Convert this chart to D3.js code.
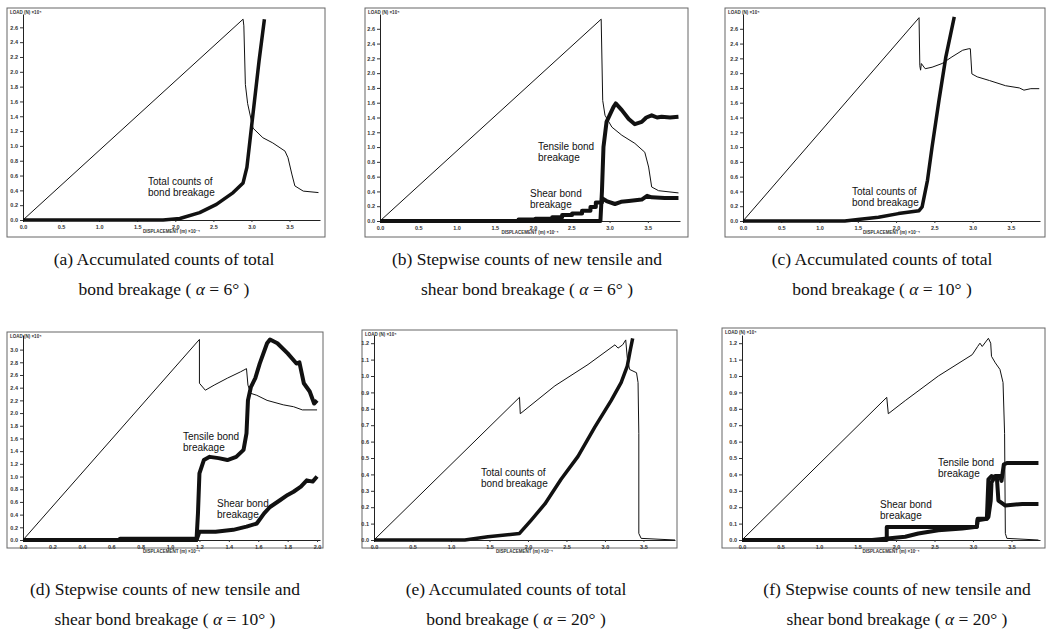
<!DOCTYPE html>
<html lang="en">
<head>
<meta charset="utf-8">
<title>Bond breakage counts vs load-displacement</title>
<script src="https://cdn.jsdelivr.net/npm/d3@7"></script>
<style>
  body { margin: 0; background: #fff; }
  .tick text { font: bold 5.5px "Liberation Sans", Arial, sans-serif; fill: #333; }
  .note { font: 10px "Liberation Sans", Arial, sans-serif; fill: #111; }
  .caption { font: 17.5px "Liberation Serif", "DejaVu Serif", serif; fill: #111; }
  .axtitle { font: bold 4.5px "Liberation Sans", Arial, sans-serif; fill: #333; }
</style>
</head>
<body>
<div id="chart"></div>
<script>
// tick labels
var ticksX05 = [0.0, 0.5, 1.0, 1.5, 2.0, 2.5, 3.0, 3.5];
var ticksX02 = [0.0, 0.2, 0.4, 0.6, 0.8, 1.0, 1.2, 1.4, 1.6, 1.8, 2.0];
var ticksY26 = [0.0, 0.2, 0.4, 0.6, 0.8, 1.0, 1.2, 1.4, 1.6, 1.8, 2.0, 2.2, 2.4, 2.6];
var ticksY30 = [0.0, 0.2, 0.4, 0.6, 0.8, 1.0, 1.2, 1.4, 1.6, 1.8, 2.0, 2.2, 2.4, 2.6, 2.8, 3.0];
var ticksY12 = [0.0, 0.1, 0.2, 0.3, 0.4, 0.5, 0.6, 0.7, 0.8, 0.9, 1.0, 1.1, 1.2];

// (a) alpha = 6
var loadA = [[0,0],[2.89,2.71],[2.90,2.62],[2.92,1.83],[2.95,1.57],[3.02,1.24],[3.15,1.11],[3.28,1.04],[3.44,0.93],[3.48,0.84],[3.53,0.62],[3.57,0.46],[3.68,0.39],[3.88,0.37]];
var totalA = [[0,0],[1.84,0],[2.06,0.02],[2.32,0.10],[2.54,0.21],[2.76,0.37],[2.89,0.50],[2.94,0.71],[2.98,1.07],[3.04,1.61],[3.10,2.15],[3.17,2.71]];

// (b) alpha = 6
var loadB = [[0,0],[2.89,2.73],[2.91,1.63],[2.94,1.43],[3.03,1.27],[3.16,1.16],[3.33,1.05],[3.46,0.93],[3.51,0.73],[3.55,0.46],[3.64,0.41],[3.90,0.38]];
var tensileB = [[0,0],[2.88,0],[2.90,0.40],[2.92,1.00],[2.96,1.34],[3.05,1.54],[3.08,1.59],[3.16,1.50],[3.25,1.38],[3.33,1.31],[3.42,1.34],[3.48,1.40],[3.55,1.43],[3.62,1.40],[3.68,1.41],[3.79,1.40],[3.90,1.41]];
var shearB = [[0,0],[1.81,0],[1.81,0.02],[2.03,0.02],[2.03,0.03],[2.25,0.03],[2.25,0.05],[2.38,0.05],[2.38,0.08],[2.51,0.08],[2.51,0.10],[2.64,0.10],[2.64,0.14],[2.75,0.14],[2.75,0.19],[2.82,0.19],[2.82,0.25],[2.90,0.25],[2.90,0.31],[2.96,0.27],[3.07,0.23],[3.15,0.26],[3.25,0.27],[3.42,0.29],[3.49,0.34],[3.55,0.32],[3.72,0.31],[3.90,0.31]];

// (c) alpha = 10
var loadC = [[0,0],[2.30,2.75],[2.31,2.10],[2.32,2.04],[2.33,2.13],[2.38,2.06],[2.47,2.08],[2.60,2.13],[2.73,2.22],[2.87,2.31],[2.95,2.33],[2.97,2.33],[2.99,1.99],[3.06,1.95],[3.22,1.90],[3.43,1.83],[3.61,1.80],[3.67,1.77],[3.76,1.79],[3.87,1.79]];
var totalC = [[0,0],[1.33,0],[1.50,0.02],[1.77,0.05],[2.03,0.10],[2.30,0.14],[2.34,0.19],[2.41,0.55],[2.47,1.00],[2.56,1.63],[2.65,2.22],[2.76,2.76]];

// (d) alpha = 10
var loadD = [[0,0],[1.20,3.16],[1.20,2.47],[1.24,2.36],[1.30,2.44],[1.39,2.55],[1.48,2.65],[1.52,2.70],[1.53,2.44],[1.55,2.31],[1.59,2.28],[1.66,2.20],[1.77,2.13],[1.84,2.10],[1.90,2.05],[2.00,2.05]];
var tensileD = [[0,0],[0.65,0],[0.66,0.02],[1.17,0.02],[1.18,0],[1.19,0.42],[1.20,1.05],[1.23,1.26],[1.27,1.31],[1.33,1.29],[1.39,1.26],[1.45,1.31],[1.50,1.42],[1.52,1.68],[1.53,2.20],[1.55,2.41],[1.58,2.55],[1.61,2.78],[1.66,3.10],[1.68,3.16],[1.73,3.10],[1.80,2.94],[1.86,2.78],[1.88,2.80],[1.91,2.47],[1.95,2.34],[1.98,2.15],[2.00,2.20]];
var shearD = [[0,0],[1.18,0],[1.20,0.13],[1.31,0.13],[1.43,0.16],[1.52,0.21],[1.59,0.26],[1.64,0.42],[1.68,0.52],[1.75,0.63],[1.80,0.71],[1.84,0.76],[1.89,0.84],[1.93,0.94],[1.97,0.92],[2.00,1.00]];

// (e) alpha = 20
var loadE = [[0,0],[1.89,0.87],[1.90,0.77],[2.35,0.94],[2.78,1.07],[3.13,1.19],[3.17,1.17],[3.23,1.19],[3.27,1.22],[3.29,1.11],[3.32,1.04],[3.41,1.02],[3.43,0.96],[3.44,0.65],[3.44,0.04],[3.47,0.01],[3.91,0]];
var totalE = [[0,0],[1.18,0],[1.48,0.02],[1.89,0.04],[2.04,0.12],[2.22,0.22],[2.43,0.37],[2.65,0.51],[2.87,0.69],[3.08,0.85],[3.21,0.96],[3.29,1.06],[3.33,1.16],[3.36,1.23]];

// (f) alpha = 20
var loadF = [[0,0],[1.88,0.87],[1.90,0.77],[2.12,0.85],[2.55,1.00],[2.99,1.13],[3.06,1.18],[3.09,1.20],[3.12,1.18],[3.20,1.23],[3.23,1.20],[3.24,1.12],[3.29,1.08],[3.35,1.04],[3.39,0.96],[3.41,0.65],[3.42,0.04],[3.44,0.01],[3.85,0]];
var tensileF = [[0,0],[1.69,0],[2.12,0.02],[2.29,0.04],[2.55,0.06],[2.86,0.07],[3.05,0.08],[3.06,0.12],[3.18,0.13],[3.20,0.14],[3.23,0.24],[3.24,0.35],[3.29,0.39],[3.35,0.39],[3.37,0.36],[3.40,0.46],[3.44,0.47],[3.64,0.47],[3.85,0.47]];
var shearF = [[0,0],[1.88,0],[1.88,0.08],[3.05,0.08],[3.06,0.13],[3.18,0.13],[3.20,0.37],[3.24,0.39],[3.31,0.38],[3.33,0.24],[3.39,0.22],[3.42,0.21],[3.64,0.22],[3.85,0.22]];

// captions
var captionLine1 = ["(a) Accumulated counts of total", "(b) Stepwise counts of new tensile and", "(c) Accumulated counts of total",
                    "(d) Stepwise counts of new tensile and", "(e) Accumulated counts of total", "(f) Stepwise counts of new tensile and"];
var captionLine2 = ["bond breakage", "shear bond breakage", "bond breakage", "shear bond breakage", "bond breakage", "shear bond breakage"];
var angles = ["6°", "6°", "10°", "10°", "20°", "20°"];

var W = 1057, H = 634;

var svg = d3.select("#chart").append("svg")
  .attr("width", W).attr("height", H)
  .style("font-family", "Liberation Sans, Arial, sans-serif");

// layout of each panel (frame box, plot box in px, axis domain)
var panels = [
  { frame: [7, 8, 325, 237], l: 23, r: 320, t: 14, b: 220, xMax: 3.90, yMax: 2.78, xt: ticksX05, yt: ticksY26,
    lines: [[loadA, 1], [totalA, 3.5]],
    notes: [[148, 185, "Total counts of", "bond breakage"]], cx: 164, cy: 265 },
  { frame: [365, 8, 688, 237], l: 380, r: 680, t: 14, b: 221, xMax: 3.92, yMax: 2.80, xt: ticksX05, yt: ticksY26,
    lines: [[loadB, 1], [tensileB, 4], [shearB, 4]],
    notes: [[538, 150, "Tensile bond", "breakage"], [530, 197, "Shear bond", "breakage"]], cx: 527, cy: 265 },
  { frame: [725, 8, 1045, 237], l: 743, r: 1040, t: 14, b: 221, xMax: 3.88, yMax: 2.80, xt: ticksX05, yt: ticksY26,
    lines: [[loadC, 1], [totalC, 3.5]],
    notes: [[852, 195, "Total counts of", "bond breakage"]], cx: 882, cy: 265 },
  { frame: [7, 332, 323, 548], l: 23, r: 320, t: 335, b: 540, xMax: 2.02, yMax: 3.23, xt: ticksX02, yt: ticksY30,
    lines: [[loadD, 1], [tensileD, 4], [shearD, 4]],
    notes: [[183, 440, "Tensile bond", "breakage"], [217, 507, "Shear bond", "breakage"]], cx: 165, cy: 595 },
  { frame: [362, 330, 677, 548], l: 374, r: 675, t: 335, b: 540, xMax: 3.91, yMax: 1.25, xt: ticksX05, yt: ticksY12,
    lines: [[loadE, 1], [totalE, 3.5]],
    notes: [[481, 476, "Total counts of", "bond breakage"]], cx: 516, cy: 595 },
  { frame: [722, 328, 1045, 548], l: 742, r: 1040, t: 335, b: 540, xMax: 3.87, yMax: 1.25, xt: ticksX05, yt: ticksY12,
    lines: [[loadF, 1], [tensileF, 4], [shearF, 4]],
    notes: [[938, 466, "Tensile bond", "breakage"], [880, 508, "Shear bond", "breakage"]], cx: 897, cy: 595 }
];

panels.forEach(function (p, i) {
  var g = svg.append("g");

  // outer frame of the plot window
  g.append("rect")
    .attr("x", p.frame[0]).attr("y", p.frame[1])
    .attr("width", p.frame[2] - p.frame[0]).attr("height", p.frame[3] - p.frame[1])
    .attr("fill", "none").attr("stroke", "#666").attr("stroke-width", 1);

  var x = d3.scaleLinear().domain([0, p.xMax]).range([p.l, p.r]);
  var y = d3.scaleLinear().domain([0, p.yMax]).range([p.b, p.t]);

  g.append("g")
    .attr("transform", "translate(0," + p.b + ")")
    .call(d3.axisBottom(x).tickValues(p.xt).tickFormat(d3.format(".1f")).tickSize(2).tickSizeOuter(0).tickPadding(3));
  g.append("g")
    .attr("transform", "translate(" + p.l + ",0)")
    .call(d3.axisLeft(y).tickValues(p.yt).tickFormat(d3.format(".1f")).tickSize(3).tickSizeOuter(0).tickPadding(2));
  g.selectAll(".domain").attr("stroke", "#222").attr("stroke-width", 1);
  g.selectAll(".tick line").attr("stroke", "#333");

  // axis titles
  g.append("text").attr("class", "axtitle")
    .attr("x", p.frame[0] + 3).attr("y", p.frame[1] + 6)
    .text("LOAD (N)  ×10⁴");
  g.append("text").attr("class", "axtitle")
    .attr("x", (p.l + p.r) / 2).attr("y", p.b + 13)
    .attr("text-anchor", "middle")
    .text("DISPLACEMENT (m)  ×10⁻⁴");

  var line = d3.line()
    .x(function (d) { return x(d[0]); })
    .y(function (d) { return y(d[1]); });

  p.lines.forEach(function (s) {
    g.append("path")
      .datum(s[0])
      .attr("d", line)
      .attr("fill", "none")
      .attr("stroke", "#111")
      .attr("stroke-width", s[1])
      .attr("stroke-linejoin", "round");
  });

  p.notes.forEach(function (n) {
    var t = g.append("text").attr("class", "note").attr("x", n[0]).attr("y", n[1]);
    t.append("tspan").attr("x", n[0]).text(n[2]);
    t.append("tspan").attr("x", n[0]).attr("dy", 11).text(n[3]);
  });

  // caption under each panel
  g.append("text").attr("class", "caption")
    .attr("x", p.cx).attr("y", p.cy).attr("text-anchor", "middle")
    .text(captionLine1[i]);
  var c2 = g.append("text").attr("class", "caption")
    .attr("x", p.cx).attr("y", p.cy + 30).attr("text-anchor", "middle");
  c2.append("tspan").text(captionLine2[i] + " ( ");
  c2.append("tspan").attr("font-style", "italic").text("α");
  c2.append("tspan").text(" = " + angles[i] + " )");
});
</script>
</body>
</html>
